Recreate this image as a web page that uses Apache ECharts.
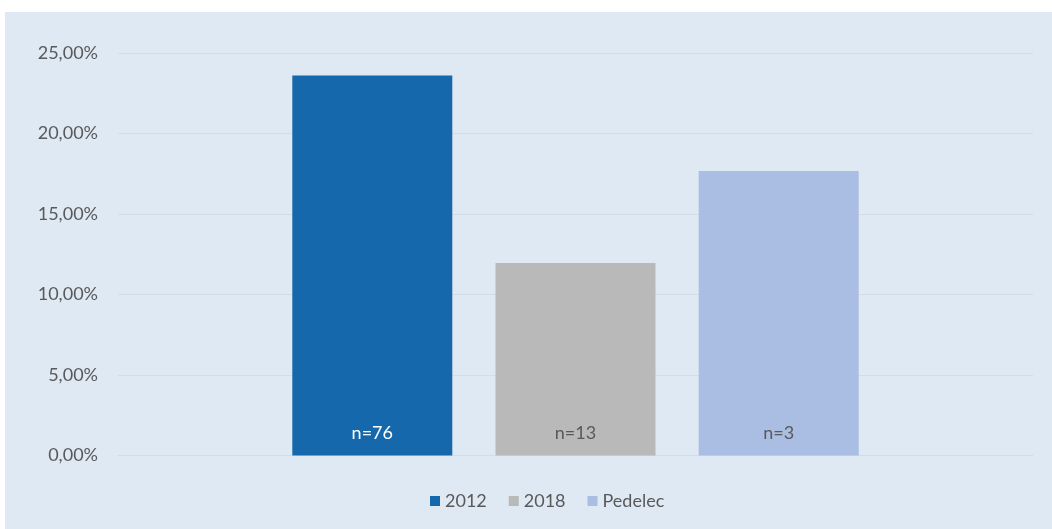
<!DOCTYPE html>
<html>
<head>
<meta charset="utf-8">
<script src="https://cdn.jsdelivr.net/npm/echarts@6/dist/echarts.min.js"></script>
<style>
html,body{margin:0;padding:0;background:#ffffff;}
#chart{position:absolute;left:5px;top:12px;width:1047px;height:517px;background:#dfe9f4;}
</style>
</head>
<body>
<div id="chart"></div>
<script>
const categories = [''];
const seriesNames = ['2012', '2018', 'Pedelec'];
const seriesValues = [23.6, 11.96, 17.67];
const sampleSizes = ['n=76', 'n=13', 'n=3'];
const seriesColors = ['#1668ac', '#b9b9b9', '#aabde3'];
const labelColors = ['#ffffff', '#595959', '#595959'];
const yTicks = [0, 5, 10, 15, 20, 25];

const chart = echarts.init(document.getElementById('chart'));
const fontFamily = 'Lato, sans-serif';
chart.setOption({
  animation: false,
  textStyle: { fontFamily: fontFamily },
  grid: { left: 113, right: 19, top: 41, bottom: 73.5, containLabel: false },
  legend: {
    bottom: 14,
    left: 420,
    itemWidth: 10,
    itemHeight: 10,
    itemGap: 22,
    icon: 'rect',
    textStyle: { color: '#595959', fontSize: 18, fontFamily: fontFamily },
    data: seriesNames
  },
  xAxis: {
    type: 'category',
    data: categories,
    axisLine: { show: true, lineStyle: { color: '#d6dce3', width: 1 } },
    axisTick: { show: false },
    axisLabel: { show: false }
  },
  yAxis: {
    type: 'value',
    min: yTicks[0],
    max: yTicks[yTicks.length - 1],
    interval: 5,
    axisLine: { show: false },
    axisTick: { show: false },
    splitLine: { lineStyle: { color: '#d6dce3', width: 1 } },
    axisLabel: {
      color: '#595959',
      fontSize: 18,
      margin: 20,
      formatter: v => v.toFixed(2).replace('.', ',') + '%'
    }
  },
  series: seriesNames.map((name, i) => ({
    name: name,
    type: 'bar',
    data: [seriesValues[i]],
    barWidth: 160,
    barGap: '27%',
    itemStyle: { color: seriesColors[i] },
    label: {
      show: true,
      position: 'insideBottom',
      distance: 13,
      color: labelColors[i],
      fontSize: 18,
      formatter: () => sampleSizes[i]
    }
  }))
});
</script>
</body>
</html>
